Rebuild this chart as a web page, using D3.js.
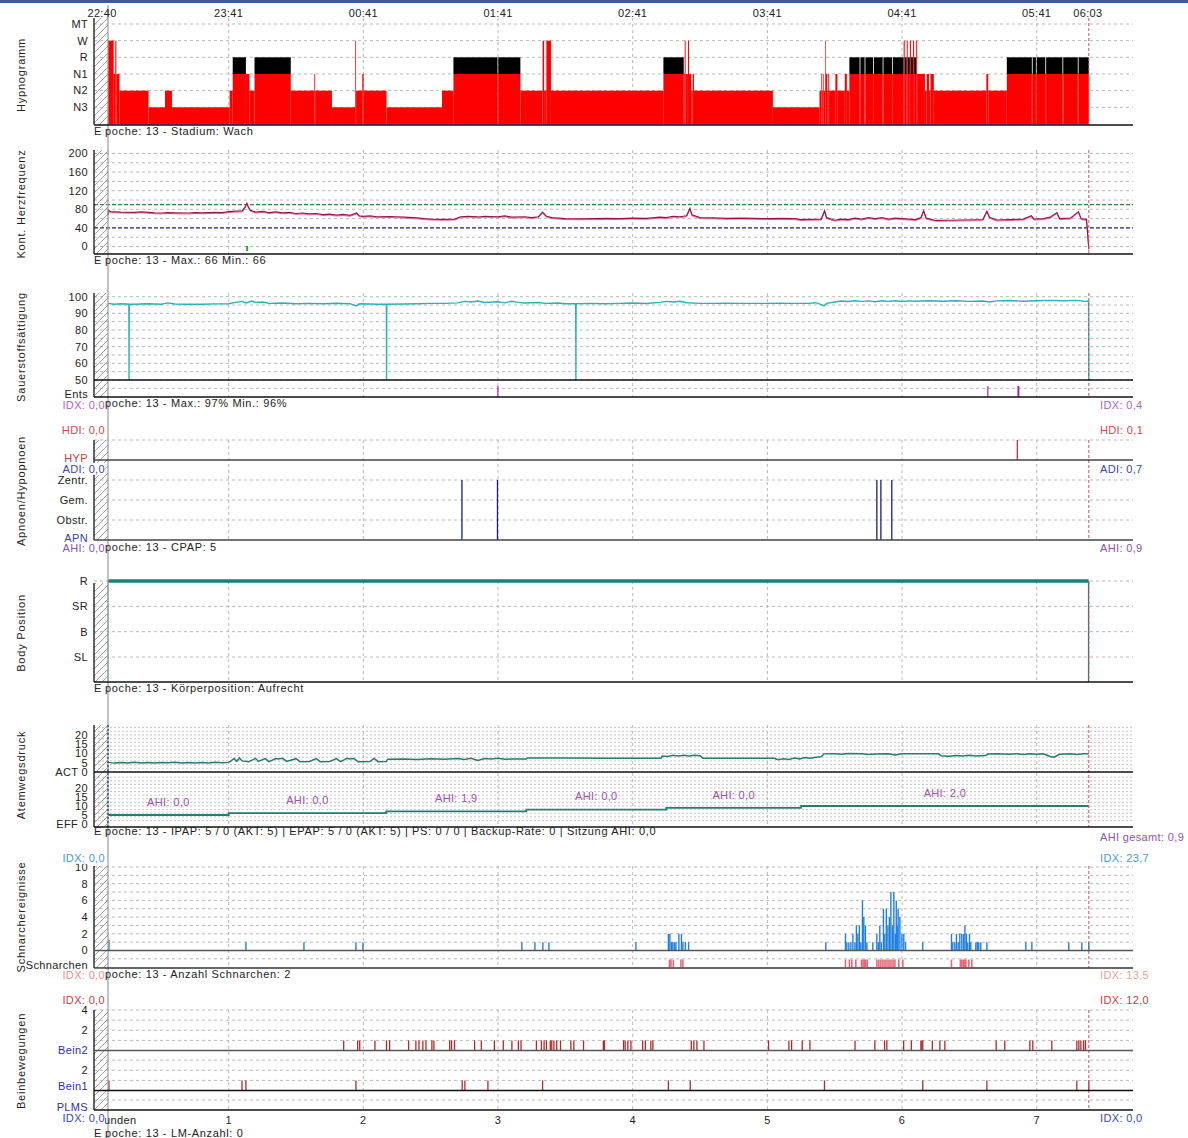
<!DOCTYPE html>
<html>
<head>
<meta charset="utf-8">
<script src="https://cdn.jsdelivr.net/npm/d3@7"></script>
<style>
  body { margin: 0; background: #fff; }
  text { font-family: "Liberation Sans", Arial, sans-serif; font-size: 11px; letter-spacing: 0.35px; }
  text.epoch { letter-spacing: 0.65px; }
</style>
</head>
<body>
<script>
// ---- data (time in hours from the grid origin) ----
var tStart = 0.104, tEnd = 7.387;
var hourTicks = [1, 2, 3, 4, 5, 6, 7];
var clockTicks = [0.06, 1, 2, 3, 4, 5, 6, 7, 7.38];
var clockLabels = ["22:40", "23:41", "00:41", "01:41", "02:41", "03:41", "04:41", "05:41", "06:03"];

var stages = ["MT", "W", "R", "N1", "N2", "N3"];
var hypnogram = [
  [0.104,"W"],[0.146,"N1"],[0.158,"W"],[0.166,"N1"],[0.189,"N2"],[0.405,"N3"],[0.527,"N2"],[0.579,"N3"],
  [1.007,"N2"],[1.030,"R"],[1.128,"N1"],[1.154,"N2"],[1.192,"R"],[1.461,"N2"],[1.636,"N1"],[1.642,"N2"],
  [1.767,"N3"],[1.940,"W"],[1.946,"N2"],[1.992,"N1"],[2.002,"N2"],[2.172,"N3"],[2.584,"N2"],[2.669,"R"],
  [2.996,"N1"],[3.002,"R"],[3.166,"N2"],[3.331,"W"],[3.342,"N2"],[3.359,"W"],[3.393,"N2"],[4.228,"R"],
  [4.379,"N1"],[4.386,"W"],[4.393,"N1"],[4.410,"W"],[4.418,"N1"],[4.435,"N2"],[4.445,"N1"],[4.455,"N2"],
  [5.041,"N3"],[5.387,"N2"],[5.400,"N1"],[5.405,"N2"],[5.412,"N1"],[5.418,"N2"],[5.428,"W"],[5.433,"N1"],
  [5.445,"N2"],[5.452,"N1"],[5.458,"N2"],[5.505,"N1"],[5.520,"N2"],[5.575,"N1"],[5.590,"N2"],[5.609,"R"],
  [5.685,"N1"],[5.691,"R"],[5.722,"N1"],[5.728,"R"],[5.785,"N1"],[5.791,"R"],[5.856,"N1"],[5.862,"R"],
  [5.927,"N1"],[5.933,"R"],[6.012,"W"],[6.020,"R"],[6.035,"W"],[6.042,"R"],[6.058,"W"],[6.066,"R"],
  [6.082,"W"],[6.090,"R"],[6.105,"W"],[6.112,"N1"],[6.170,"N2"],[6.183,"N1"],[6.200,"N2"],[6.211,"N1"],
  [6.236,"N2"],[6.626,"N1"],[6.640,"N2"],[6.778,"R"],[6.964,"N1"],[6.970,"R"],[6.994,"N1"],[7.000,"R"],
  [7.064,"N1"],[7.070,"R"],[7.191,"N1"],[7.197,"R"],[7.305,"N1"],[7.311,"R"]
];

var hrTicks = [0, 40, 80, 120, 160, 200];
var hrLimits = [90, 40];
var hrMarks = [1.13];
var hrSeries = [
  [0.104,68],[0.108,78],[0.12,75],[0.2,74],[0.3,73.5],[0.35,74.5],[0.4,73.5],[0.45,72.5],[0.5,72],[0.55,73],
  [0.6,72.5],[0.7,72],[0.75,73],[0.8,72.5],[0.9,73.5],[0.95,73],[1.0,75],[1.05,76],[1.1,76.5],[1.12,84],
  [1.135,93],[1.145,86],[1.16,78],[1.2,74],[1.25,75.5],[1.3,73],[1.35,74.5],[1.4,72.5],[1.45,73.5],[1.5,71],
  [1.55,72],[1.6,70],[1.65,71],[1.7,68.5],[1.75,69.5],[1.8,67.5],[1.85,69],[1.9,67],[1.95,72],[1.97,66],
  [2.0,65],[2.05,66],[2.1,64],[2.2,64.5],[2.3,63],[2.4,61.5],[2.45,60],[2.5,59],[2.6,58.5],[2.68,59],
  [2.72,64],[2.78,65],[2.85,63.5],[2.9,65],[3.0,64],[3.05,66],[3.1,63],[3.2,64],[3.25,62],[3.3,64],
  [3.33,74],[3.36,65],[3.4,62],[3.5,60],[3.6,59.5],[3.7,60],[3.8,60.5],[3.9,60],[4.0,61],[4.1,60.5],
  [4.2,63],[4.25,62],[4.3,65],[4.35,64],[4.4,66],[4.425,82],[4.44,68],[4.5,62],[4.6,61.5],[4.7,60.5],
  [4.8,61],[4.9,60.5],[5.0,60],[5.1,60.5],[5.2,60],[5.25,58],[5.3,58.5],[5.4,59],[5.425,77],[5.44,62],
  [5.5,56.5],[5.55,59],[5.6,58],[5.65,61],[5.7,59],[5.75,62],[5.8,60],[5.85,62],[5.9,59],[5.95,61],
  [6.0,60],[6.05,59],[6.1,58],[6.14,62],[6.16,77],[6.18,61],[6.25,56],[6.35,56.5],[6.45,57],[6.55,57.5],
  [6.6,58],[6.63,76],[6.65,63],[6.7,57],[6.8,58],[6.9,59],[6.96,66],[6.98,59],[7.05,60],[7.1,63],
  [7.15,73],[7.17,60],[7.25,61],[7.31,75],[7.33,60],[7.37,58],[7.387,-5]
];

var spo2Ticks = [50, 60, 70, 80, 90, 100];
var spo2Series = [
  [0.104,96],[0.15,95.5],[0.2,95.8],[0.259,95.5],[0.2598,72],[0.2603,50],[0.2608,72],[0.262,95.5],[0.3,95.5],
  [0.4,95.8],[0.5,95.5],[0.55,96.3],[0.6,95.6],[0.7,95.5],[0.8,95.5],[0.9,95.7],[1.0,95.8],[1.05,96.6],
  [1.1,97.2],[1.13,96.2],[1.17,97.4],[1.2,96.5],[1.25,96.8],[1.3,96],[1.4,96.2],[1.5,95.8],[1.6,96],
  [1.7,95.8],[1.8,96.1],[1.9,95.8],[1.95,94.5],[1.97,95.8],[2.05,95.6],[2.1,95.5],[2.171,95.5],[2.1718,72],
  [2.1723,50],[2.1728,72],[2.174,95.5],[2.3,95.6],[2.4,95.8],[2.5,96],[2.6,96],[2.7,96.3],[2.75,97.2],
  [2.8,96.8],[2.85,97.4],[2.9,96.5],[3.0,97],[3.05,96.3],[3.1,97.3],[3.15,96.6],[3.2,96.2],[3.3,96.5],
  [3.35,96],[3.45,96.2],[3.5,95.8],[3.577,95.8],[3.5778,72],[3.5783,50],[3.5788,72],[3.58,95.8],[3.7,96],
  [3.8,95.8],[3.9,96],[4.0,96.2],[4.1,95.9],[4.2,96.6],[4.25,97.2],[4.3,96.8],[4.35,97.3],[4.4,96.4],
  [4.5,96],[4.6,96],[4.7,96.1],[4.8,96],[4.9,96],[5.0,96],[5.1,96.1],[5.2,96],[5.3,96],[5.36,96.4],
  [5.4,95.2],[5.42,94.5],[5.44,96],[5.5,96.8],[5.55,97.4],[5.6,97.1],[5.65,97.6],[5.7,97.2],[5.75,97.5],
  [5.8,97],[5.85,97.6],[5.9,97.2],[5.95,97.6],[6.0,97.1],[6.05,97.5],[6.1,97.3],[6.2,97.6],[6.3,97.3],
  [6.4,97.6],[6.5,97.2],[6.6,97.4],[6.65,96.8],[6.7,97.5],[6.8,97.7],[6.9,97.3],[7.0,97.6],[7.1,97.8],
  [7.2,97.6],[7.3,97.8],[7.36,97.2],[7.385,97.4],[7.387,50]
];
var arousalEvents = [2.999, 6.637, 6.864];

var apneaLabels = ["Zentr.", "Gem.", "Obstr."];
var hypopneaEvents = [6.856];
var apneaEvents = [2.732, 2.996, 5.813, 5.843, 5.924];

var positionLabels = ["R", "SR", "B", "SL"];
var positionSegments = [[0.104, 7.385, "R"]];

var pressureTicks = [20, 15, 10, 5];
var actSeries = [
  [0.104,5.2],[0.15,4.8],[0.2,5.2],[0.25,4.9],[0.3,5.3],[0.35,4.9],[0.4,5.2],[0.45,4.8],[0.5,5.2],[0.55,5.0],
  [0.6,5.3],[0.65,4.9],[0.7,5.2],[0.75,4.8],[0.8,5.1],[0.85,4.9],[0.9,5.3],[0.95,5.0],[1.0,5.2],[1.02,6.2],
  [1.04,7.3],[1.06,5.8],[1.08,7.6],[1.1,6.0],[1.15,5.6],[1.2,7.4],[1.22,5.7],[1.27,7.2],[1.3,5.6],[1.35,7.3],
  [1.37,7.0],[1.4,7.4],[1.43,5.7],[1.5,7.2],[1.53,5.6],[1.6,5.7],[1.65,7.3],[1.68,5.6],[1.75,5.7],[1.8,7.2],
  [1.83,5.6],[1.88,7.4],[1.9,7.0],[1.93,7.3],[1.96,5.6],[2.05,5.7],[2.08,7.3],[2.11,5.6],[2.17,5.7],[2.18,6.9],
  [2.3,7.0],[2.4,6.8],[2.5,7.1],[2.6,6.9],[2.7,7.3],[2.75,6.8],[2.8,7.4],[2.85,6.2],[2.9,7.3],[2.95,7.0],
  [3.0,7.4],[3.05,6.9],[3.1,7.0],[3.21,7.0],[3.22,7.6],[3.5,7.6],[3.8,7.5],[4.0,7.5],[4.21,7.4],[4.22,8.6],
  [4.26,8.4],[4.3,9.0],[4.34,8.6],[4.38,9.1],[4.42,8.7],[4.46,9.0],[4.5,8.8],[4.52,7.5],[4.8,7.5],[5.05,7.4],
  [5.08,6.6],[5.12,7.2],[5.16,6.8],[5.2,7.5],[5.24,7.1],[5.28,7.8],[5.32,7.4],[5.36,8.0],[5.4,8.2],[5.42,9.8],
  [5.5,9.9],[5.55,9.6],[5.6,10.0],[5.7,9.8],[5.75,9.5],[5.8,9.7],[5.9,9.8],[5.95,9.2],[6.0,9.9],[6.1,9.9],
  [6.27,9.8],[6.29,8.8],[6.35,8.5],[6.4,8.9],[6.45,8.6],[6.5,9.0],[6.55,8.7],[6.62,8.9],[6.64,9.7],[6.7,9.9],
  [6.8,9.6],[6.85,9.9],[6.9,9.5],[6.95,9.8],[7.0,9.6],[7.05,9.9],[7.1,8.4],[7.13,8.0],[7.17,9.6],[7.25,9.8],
  [7.3,9.5],[7.35,9.9],[7.387,9.8]
];
var effSteps = [[0.104, 5], [1.0, 6], [2.17, 7], [3.21, 8], [4.25, 9], [5.25, 10]];
var sessionAhi = ["0,0", "0,0", "1,9", "0,0", "0,0", "2,0"];

var snoreTicks = [0, 2, 4, 6, 8, 10];
var snoreEvents = [
  [0.111,1.3],[1.128,1],[1.559,1],[1.945,1],[1.997,1],[3.177,1],[3.274,1],[3.333,1],[3.378,1],[4.024,1],
  [4.265,2],[4.276,2],[4.287,1],[4.298,1],[4.310,1],[4.321,1],[4.343,2],[4.362,2],[4.373,1],[4.391,1],[4.415,1],
  [5.434,1],[5.580,2],[5.590,1],[5.605,1],[5.620,1],[5.635,2],[5.650,1],[5.661,3],[5.672,2],[5.683,3],[5.694,1],
  [5.706,6],[5.716,4],[5.728,3],[5.739,1],[5.783,1],[5.813,2],[5.824,1],[5.835,3],[5.846,1],[5.862,5],[5.872,2],
  [5.883,5],[5.895,3],[5.906,4],[5.917,7],[5.928,3],[5.939,7],[5.950,2],[5.957,6],[5.965,3],[5.971,5],[5.984,4],
  [5.999,2],[6.013,2],[6.026,1],[6.154,1],[6.367,2],[6.377,1],[6.392,1],[6.404,2],[6.417,1],[6.429,2],[6.444,2],
  [6.457,2],[6.467,3],[6.478,2],[6.488,1],[6.501,2],[6.511,1],[6.548,1],[6.559,1],[6.570,1],[6.585,1],[6.630,1],
  [6.919,1],[6.964,1],[7.238,1],[7.335,1],[7.387,1]
];
var snoreMarks = [
  4.273,4.284,4.302,4.358,4.373,5.580,5.609,5.627,5.657,5.699,5.710,5.720,5.731,5.742,5.813,5.828,5.843,
  5.858,5.873,5.888,5.903,5.918,5.933,5.947,5.976,6.006,6.367,6.433,6.444,6.455,6.466,6.474,6.496,6.518
];

var bein2Events = [
  1.854,1.958,1.973,2.086,2.172,2.195,2.336,2.390,2.413,2.442,2.465,2.509,2.524,2.641,2.655,2.677,2.826,
  2.876,2.973,3.039,3.103,3.151,3.171,3.285,3.322,3.342,3.359,3.388,3.399,3.415,3.436,3.464,3.541,3.563,
  3.635,3.782,3.790,3.932,3.944,3.964,3.987,4.074,4.094,4.135,4.150,4.435,4.454,4.477,4.529,5.009,5.160,
  5.180,5.259,5.316,5.651,5.798,5.870,5.887,6.012,6.069,6.140,6.147,6.154,6.225,6.281,6.318,6.699,6.763,
  6.949,6.971,7.112,7.298,7.313,7.328,7.348,7.362
];
var bein1Events = [0.111,1.099,1.128,1.945,2.734,2.754,2.925,3.331,4.265,4.427,5.424,6.154,6.630,7.298,7.387];

// ---- layout ----
var W = 1188, H = 1138;
var x0 = 94, x1 = 1133;
var x = d3.scaleLinear().domain([0, 7.715]).range([x0, x1]);
var xs = x(tStart), xe = x(tEnd);

var svg = d3.select("body").append("svg").attr("width", W).attr("height", H);
svg.append("rect").attr("width", W).attr("height", H).attr("fill", "#fff");
svg.append("rect").attr("width", W).attr("height", 3).attr("fill", "#3b5a98");

svg.append("defs").append("pattern")
    .attr("id", "hatch").attr("patternUnits", "userSpaceOnUse")
    .attr("width", 7).attr("height", 7)
  .append("path")
    .attr("d", "M0,7 L7,0 M-1,1 L1,-1 M6,8 L8,6")
    .attr("stroke", "#8a8a8a").attr("stroke-width", 0.8);

var gGrid = svg.append("g");
var gData = svg.append("g");
var gAxis = svg.append("g");
var gText = svg.append("g");

function hgrid(ys) {
  ys.forEach(function(y) {
    gGrid.append("line").attr("x1", x0).attr("x2", x1).attr("y1", y).attr("y2", y)
      .attr("stroke", "#b8b8b8").attr("stroke-dasharray", "3,3");
  });
}

function vgrid(top, bottom) {
  hourTicks.forEach(function(h) {
    gGrid.append("line").attr("x1", x(h)).attr("x2", x(h)).attr("y1", top).attr("y2", bottom)
      .attr("stroke", "#b8b8b8").attr("stroke-dasharray", "3,3");
  });
  gAxis.append("line").attr("x1", xe).attr("x2", xe).attr("y1", top).attr("y2", bottom)
    .attr("stroke", "#c85050").attr("stroke-dasharray", "3,2");
}

function frame(top, bottom) {
  gAxis.append("rect").attr("x", x0).attr("y", top).attr("width", xs - x0).attr("height", bottom - top)
    .attr("fill", "url(#hatch)");
  gAxis.append("line").attr("x1", x0).attr("x2", x0).attr("y1", top).attr("y2", bottom)
    .attr("stroke", "#111").attr("stroke-width", 1.3);
}

function baseLine(y, colour) {
  gAxis.append("line").attr("x1", x0).attr("x2", x1).attr("y1", y).attr("y2", y)
    .attr("stroke", colour || "#111").attr("stroke-width", 1.5);
}

function label(txt, px, py, anchor, colour) {
  return gText.append("text").attr("x", px).attr("y", py).attr("dy", "0.35em")
    .attr("text-anchor", anchor || "end").attr("fill", colour || "#222").text(txt);
}

function sideLabel(txt, py, colour) {
  // left index labels are painted with a white box, right ones are plain
  var t = label(txt, 105, py, "end", colour);
  var b = t.node().getBBox();
  gText.insert("rect", function() { return t.node(); })
    .attr("x", b.x - 1).attr("y", b.y).attr("width", b.width + 1).attr("height", b.height).attr("fill", "#fff");
}

function epoch(txt, py) {
  var t = gText.append("text").attr("class", "epoch").attr("x", x0).attr("y", py).attr("dy", "0.35em").attr("fill", "#222");
  t.append("tspan").text("E");
  t.append("tspan").attr("dx", 3).text(txt);
}

function title(txt, cy) {
  gText.append("text").attr("transform", "translate(25," + cy + ") rotate(-90)")
    .attr("text-anchor", "middle").attr("fill", "#222").style("letter-spacing", "0.8px").text(txt);
}

// ---- cursor line ----
gAxis.append("line").attr("x1", xs).attr("x2", xs).attr("y1", 5).attr("y2", H)
  .attr("stroke", "#9a9a9a").attr("stroke-width", 1.2);

// ---- clock labels ----
clockTicks.forEach(function(h, i) {
  label(clockLabels[i], x(h), 13, "middle");
});

// ---- 1. Hypnogramm ----
var yStage = d3.scalePoint().domain(stages).range([24, 107.3]);
var hypBottom = 124.5;
hgrid(stages.map(function(s) { return yStage(s); }));
vgrid(18, hypBottom);
hypnogram.forEach(function(d, i) {
  var t0 = d[0], t1 = i < hypnogram.length - 1 ? hypnogram[i + 1][0] : tEnd;
  var lvl = d[1] === "R" ? "N1" : d[1];
  gData.append("rect").attr("x", x(t0)).attr("width", x(t1) - x(t0))
    .attr("y", yStage(lvl)).attr("height", hypBottom - yStage(lvl)).attr("fill", "#ff0000");
  if (d[1] === "R") {
    gData.append("rect").attr("x", x(t0)).attr("width", x(t1) - x(t0))
      .attr("y", yStage("R")).attr("height", yStage("N1") - yStage("R")).attr("fill", "#000");
  }
});
frame(18, hypBottom);
baseLine(hypBottom + 0.5);
stages.forEach(function(s) { label(s, 88, yStage(s)); });
epoch("poche: 13 - Stadium: Wach", 131);
title("Hypnogramm", 75);

// ---- 2. Herzfrequenz ----
var yHr = d3.scaleLinear().domain([0, 200]).range([246.5, 153.5]);
hgrid(d3.range(0, 201, 20).map(yHr));
vgrid(150, 254);
hrLimits.forEach(function(v, i) {
  gData.append("line").attr("x1", x0).attr("x2", x1).attr("y1", yHr(v)).attr("y2", yHr(v))
    .attr("stroke", i === 0 ? "#3c7c46" : "#2c2c80").attr("stroke-width", 1.2).attr("stroke-dasharray", "4,2");
});
var hrLine = d3.line().x(function(d) { return x(d[0]); }).y(function(d) { return yHr(d[1]); });
gData.append("path").datum(hrSeries).attr("d", hrLine).attr("fill", "none")
  .attr("stroke", "#ee6aa8").attr("stroke-width", 1).attr("transform", "translate(0,1)");
gData.append("path").datum(hrSeries).attr("d", hrLine).attr("fill", "none")
  .attr("stroke", "#9b1448").attr("stroke-width", 1.2);
hrMarks.forEach(function(h) {
  gData.append("rect").attr("x", x(h)).attr("y", 246).attr("width", 2).attr("height", 5).attr("fill", "#2ea02e");
});
frame(150, 254);
baseLine(254);
hrTicks.forEach(function(v) { label(v, 88, yHr(v)); });
epoch("poche: 13 - Max.: 66 Min.: 66", 260);
title("Kont. Herzfrequenz", 204);

// ---- 3. Sauerstoffsaettigung ----
var ySp = d3.scaleLinear().domain([50, 100]).range([380, 296.7]);
hgrid(d3.range(45, 101, 5).map(ySp));
vgrid(293, 397);
gData.append("path").datum(spo2Series)
  .attr("d", d3.line().x(function(d) { return x(d[0]); }).y(function(d) { return ySp(d[1]); }))
  .attr("fill", "none").attr("stroke", "#27b3b3").attr("stroke-width", 1.4);
arousalEvents.forEach(function(h, i) {
  gData.append("line").attr("x1", x(h)).attr("x2", x(h)).attr("y1", 386).attr("y2", 397)
    .attr("stroke", "#a02ca0").attr("stroke-width", i === 2 ? 2 : 1.2);
});
frame(293, 397);
baseLine(380);
baseLine(397);
spo2Ticks.forEach(function(v) { label(v, 88, ySp(v)); });
label("Ents", 88, 394);
epoch("poche: 13 - Max.: 97% Min.: 96%", 403);
sideLabel("IDX: 0,0", 405, "#b060c8");
label("IDX: 0,4", 1100, 405, "start", "#b060c8");
title("Sauerstoffsättigung", 347);

// ---- 4. Apnoen/Hypopnoen ----
var yApn = d3.scalePoint().domain(apneaLabels).range([480, 520]);
hgrid([440].concat(apneaLabels.map(function(s) { return yApn(s); })));
vgrid(440, 540);
hypopneaEvents.forEach(function(h) {
  gData.append("line").attr("x1", x(h)).attr("x2", x(h)).attr("y1", 440).attr("y2", 460)
    .attr("stroke", "#c83030").attr("stroke-width", 1.3);
});
apneaEvents.forEach(function(h) {
  gData.append("line").attr("x1", x(h)).attr("x2", x(h)).attr("y1", 480).attr("y2", 540)
    .attr("stroke", "#1c1c7c").attr("stroke-width", 1.3);
});
frame(440, 540);
baseLine(460, "#444");
baseLine(540, "#444");
apneaLabels.forEach(function(s) { label(s, 88, yApn(s)); });
label("HYP", 88, 458, "end", "#c83838");
label("APN", 88, 538, "end", "#3040b0");
label("HDI: 0,0", 105, 430, "end", "#d04848");
label("HDI: 0,1", 1100, 430, "start", "#d04848");
sideLabel("ADI: 0,0", 469, "#3a48a8");
label("ADI: 0,7", 1100, 469, "start", "#3a48a8");
epoch("poche: 13 - CPAP:  5", 547);
sideLabel("AHI: 0,0", 548, "#9050b0");
label("AHI: 0,9", 1100, 548, "start", "#9050b0");
title("Apnoen/Hypopnoen", 491);

// ---- 5. Body Position ----
var yPos = d3.scalePoint().domain(positionLabels).range([581, 657]);
hgrid(positionLabels.map(function(s) { return yPos(s); }));
vgrid(581, 682);
positionSegments.forEach(function(d) {
  gData.append("line").attr("x1", x(d[0])).attr("x2", x(d[0])).attr("y1", 682).attr("y2", yPos(d[2]))
    .attr("stroke", "#5fb0a8").attr("stroke-width", 1);
  gData.append("line").attr("x1", x(d[0])).attr("x2", x(d[1])).attr("y1", yPos(d[2])).attr("y2", yPos(d[2]))
    .attr("stroke", "#1a8078").attr("stroke-width", 3.5);
  gData.append("line").attr("x1", x(d[1])).attr("x2", x(d[1])).attr("y1", yPos(d[2])).attr("y2", 682)
    .attr("stroke", "#1a8078").attr("stroke-width", 1.3);
});
frame(583, 682);
baseLine(682);
positionLabels.forEach(function(s) { label(s, 88, yPos(s)); });
epoch("poche: 13 - Körperposition: Aufrecht", 688);
title("Body Position", 633);

// ---- 6. Atemwegsdruck ----
var yAct = d3.scaleLinear().domain([0, 20]).range([772, 735]);
var yEff = d3.scaleLinear().domain([0, 20]).range([824, 788]);
gGrid.selectAll(null).data(d3.range(2, 26, 2).map(yAct).concat(d3.range(2, 28, 2).map(yEff)))
  .enter().append("line")
    .attr("x1", x0).attr("x2", x1).attr("y1", function(d) { return d; }).attr("y2", function(d) { return d; })
    .attr("stroke", "#c4c4c4").attr("stroke-dasharray", "2,2");
vgrid(725, 827);
gData.append("path").datum(actSeries)
  .attr("d", d3.line().x(function(d) { return x(d[0]); }).y(function(d) { return yAct(d[1]); }))
  .attr("fill", "none").attr("stroke", "#2a7a72").attr("stroke-width", 1.5);
var effPts = [];
effSteps.forEach(function(d, i) {
  var t1 = i < effSteps.length - 1 ? effSteps[i + 1][0] : tEnd;
  effPts.push([d[0], d[1]], [t1, d[1]]);
  label("AHI: " + sessionAhi[i], x((d[0] + t1) / 2), yEff(d[1]) - 13, "middle", "#a050b0");
});
gData.append("path").datum(effPts)
  .attr("d", d3.line().x(function(d) { return x(d[0]); }).y(function(d) { return yEff(d[1]); }))
  .attr("fill", "none").attr("stroke", "#2a7a72").attr("stroke-width", 1.8);
frame(725, 827);
gAxis.append("line").attr("x1", xs).attr("x2", xs).attr("y1", 725).attr("y2", 827)
  .attr("stroke", "#2a3a90").attr("stroke-width", 1.3).attr("stroke-dasharray", "2,2");
baseLine(772);
baseLine(827);
pressureTicks.forEach(function(v) { label(v, 88, yAct(v)); label(v, 88, yEff(v)); });
label("ACT 0", 88, yAct(0));
label("EFF 0", 88, yEff(0));
epoch("poche: 13 - IPAP: 5 / 0 (AKT: 5) | EPAP: 5 / 0 (AKT: 5) | PS: 0 / 0 | Backup-Rate: 0 | Sitzung AHI: 0,0", 831);
label("AHI gesamt: 0,9", 1100, 837, "start", "#9050b0");
title("Atemwegsdruck", 775);

// ---- 7. Schnarchereignisse ----
var ySn = d3.scaleLinear().domain([0, 10]).range([950.5, 867]);
hgrid(d3.range(-1, 11, 1).filter(function(v) { return v !== 0; }).map(ySn));
vgrid(866, 968);
snoreEvents.forEach(function(d) {
  gData.append("line").attr("x1", x(d[0])).attr("x2", x(d[0])).attr("y1", ySn(0)).attr("y2", ySn(d[1]))
    .attr("stroke", "#1f7fe0").attr("stroke-width", 1.4);
});
snoreMarks.forEach(function(h) {
  gData.append("rect").attr("x", x(h) - 0.8).attr("y", 959.5).attr("width", 1.6).attr("height", 7.5)
    .attr("fill", "#e66878");
});
frame(866, 968);
baseLine(ySn(0), "#555");
baseLine(968, "#333");
snoreTicks.forEach(function(v) { label(v, 88, ySn(v)); });
title("Schnarchereignisse", 917);
label("Schnarchen", 88, 965);
sideLabel("IDX: 0,0", 858, "#4a98d8");
label("IDX: 23,7", 1100, 858, "start", "#4a98d8");
epoch("poche: 13 - Anzahl Schnarchen: 2", 974);
sideLabel("IDX: 0,0", 975, "#e89090");
label("IDX: 13,5", 1100, 975, "start", "#e8a0a0");

// ---- 8. Beinbewegungen ----
var yB2 = d3.scaleLinear().domain([0, 4]).range([1050.5, 1010]);
var yB1 = d3.scaleLinear().domain([0, 4]).range([1090.5, 1050]);
hgrid([1, 2, 3, 4].map(yB2).concat([1, 2, 3].map(yB1), [1100]));
vgrid(1010, 1110);
[[bein2Events, yB2], [bein1Events, yB1]].forEach(function(p) {
  p[0].forEach(function(h) {
    gData.append("line").attr("x1", x(h)).attr("x2", x(h)).attr("y1", p[1](0)).attr("y2", p[1](1))
      .attr("stroke", "#b42828").attr("stroke-width", 1.3);
  });
});
frame(1010, 1110);
baseLine(yB2(0), "#555");
baseLine(yB1(0), "#111");
baseLine(1110, "#111");
label("4", 88, yB2(4));
label("2", 88, yB2(2));
label("Bein2", 88, yB2(0), "end", "#3030a0");
label("2", 88, yB1(2));
label("Bein1", 88, yB1(0) - 4, "end", "#3030a0");
label("PLMS", 88, 1107, "end", "#3030a0");
sideLabel("IDX: 0,0", 1000, "#c84040");
label("IDX: 12,0", 1100, 1000, "start", "#c84040");
label("Stunden", 93, 1120, "start");
hourTicks.forEach(function(h) { label(h, x(h), 1120, "middle"); });
sideLabel("IDX: 0,0", 1118, "#3a48a8");
label("IDX: 0,0", 1100, 1118, "start", "#3a48a8");
epoch("poche: 13 - LM-Anzahl: 0", 1133);
title("Beinbewegungen", 1061);
</script>
</body>
</html>
